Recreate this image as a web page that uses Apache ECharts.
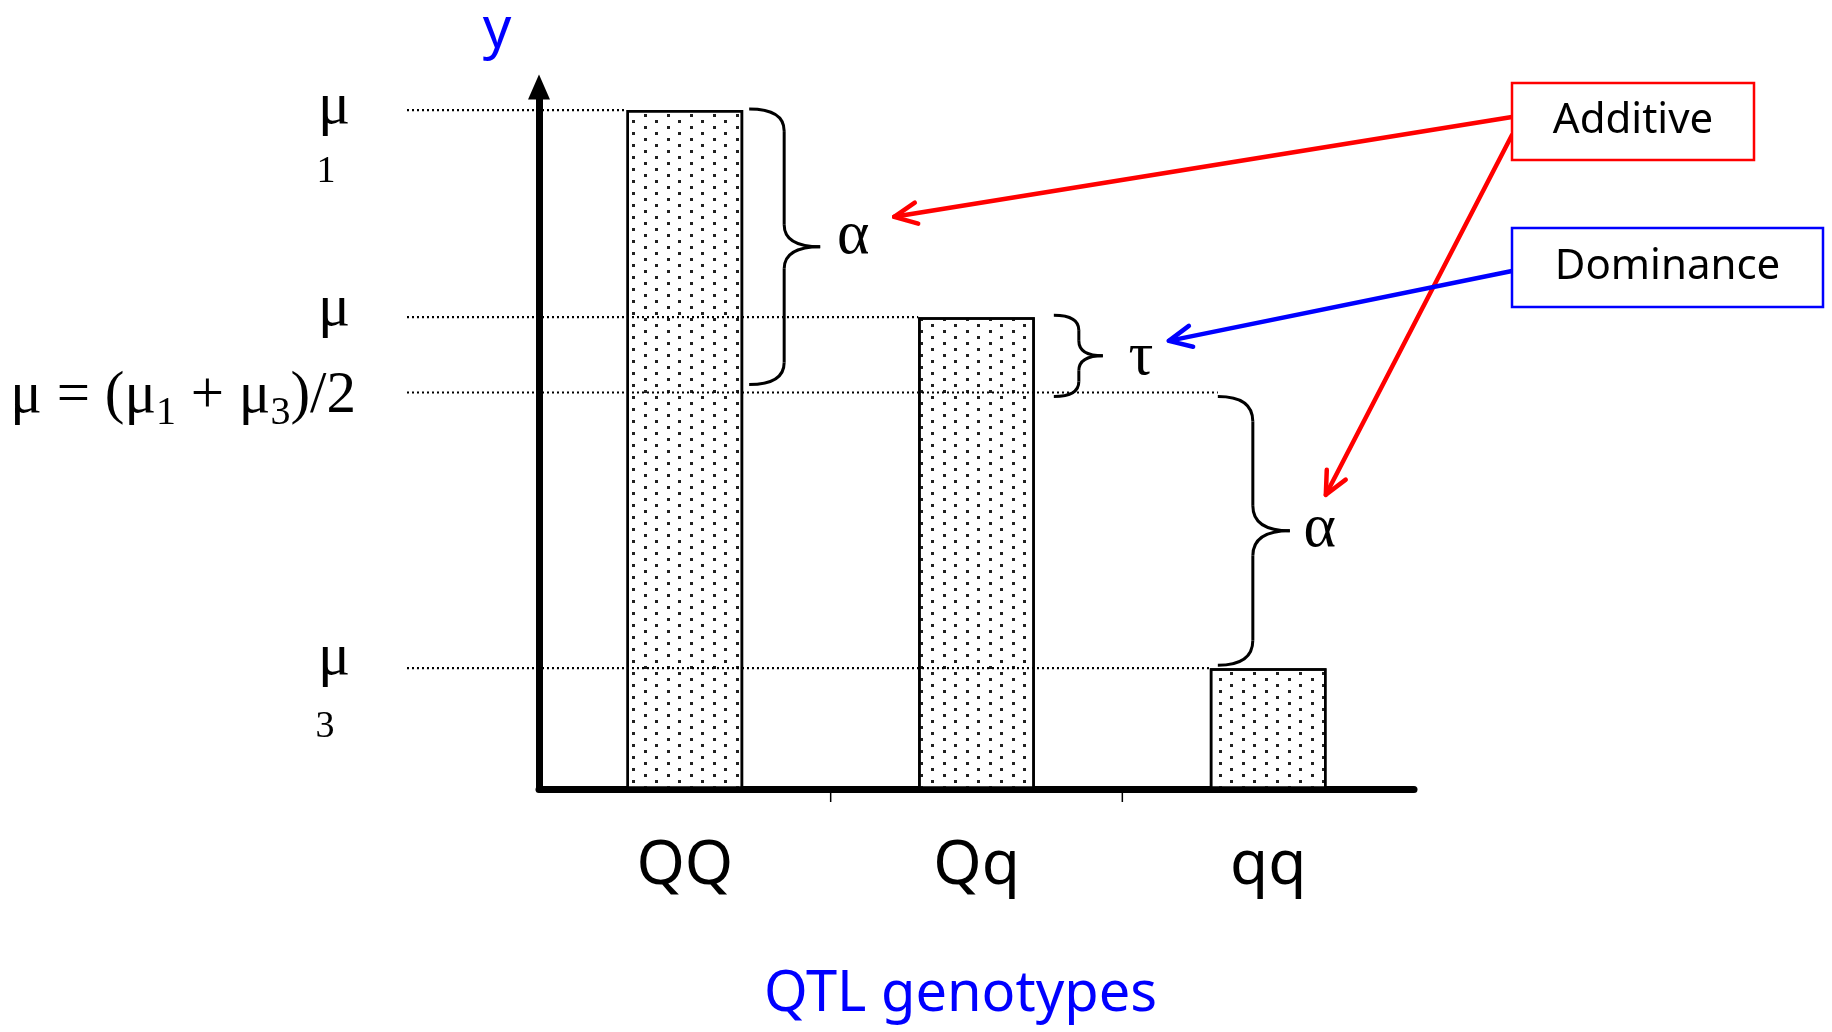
<!DOCTYPE html>
<html>
<head>
<meta charset="utf-8">
<title>QTL genotypes</title>
<script src="https://cdn.jsdelivr.net/npm/echarts@6/dist/echarts.min.js"></script>
<style>
  html, body { margin: 0; padding: 0; background: #fff; }
  #chart { width: 1832px; height: 1032px; }
</style>
</head>
<body>
<div id="chart"></div>
<script>
  // genotype classes and their mean phenotype (mu1, mu2, mu3)
  var genotypes = ['QQ', 'Qq', 'qq'];
  var genotypeMeans = [10, 6.95, 1.78];
  // mu = (mu1 + mu3) / 2
  var midpoint = 5.84;
  var yMax = 10.34;

  var handFont = "'Comic Sans MS', 'Noto Sans', sans-serif";
  var mathFont = "'Liberation Serif', 'DejaVu Serif', serif";

  var chart = echarts.init(document.getElementById('chart'));

  var option = {
    backgroundColor: '#fff',
    animation: false,
    grid: {
      left: 539, right: 418, top: 87, bottom: 243,
      containLabel: false, outerBoundsMode: 'none'
    },
    xAxis: {
      type: 'category',
      data: genotypes,
      name: 'QTL genotypes',
      nameLocation: 'middle',
      nameGap: 178,
      nameTextStyle: {
        color: '#0000ff', fontSize: 56, fontFamily: handFont,
        padding: [0, 32, 0, 0]
      },
      axisLine: {
        show: true, onZero: false,
        lineStyle: { color: '#000', width: 7, cap: 'round' }
      },
      axisTick: { show: false },
      axisLabel: { color: '#000', fontSize: 62, fontFamily: handFont, margin: 46 },
      splitLine: { show: false }
    },
    yAxis: {
      type: 'value',
      min: 0,
      max: yMax,
      name: 'y',
      nameLocation: 'end',
      nameGap: 28,
      nameTextStyle: {
        color: '#0000ff', fontSize: 56, fontFamily: handFont,
        padding: [0, 84, 0, 0]
      },
      axisLine: {
        show: true,
        symbol: ['none', 'triangle'],
        symbolSize: [22, 25],
        lineStyle: { color: '#000', width: 7, cap: 'round' }
      },
      axisTick: { show: false },
      axisLabel: { show: false },
      splitLine: { show: false }
    },
    series: [
      {
        type: 'bar',
        data: genotypeMeans,
        barWidth: '40%',
        silent: true,
        itemStyle: {
          color: '#fff',
          borderColor: '#000',
          borderWidth: 2.5,
          decal: {
            symbol: 'rect',
            symbolSize: 1,
            color: '#222',
            dashArrayX: [[2.5, 19.5], [0, 11, 2.5, 8.5]],
            dashArrayY: [2.5, 3],
            rotation: 0
          }
        },
        emphasis: { disabled: true }
      }
    ]
  };
  chart.setOption(option);

  //region annotations
  function yPx(v) { return chart.convertToPixel({ yAxisIndex: 0 }, v); }
  function xPx(c) { return chart.convertToPixel({ xAxisIndex: 0 }, c); }

  var band = xPx(genotypes[1]) - xPx(genotypes[0]);
  var barLeft = genotypes.map(function (c) { return xPx(c) - band * 0.2; });
  var barRight = genotypes.map(function (c) { return xPx(c) + band * 0.2; });
  var y0 = yPx(0);
  var y1 = yPx(genotypeMeans[0]);
  var y2 = yPx(genotypeMeans[1]);
  var y3 = yPx(genotypeMeans[2]);
  var yMid = yPx(midpoint);
  var lineStart = 407;

  var els = [];

  // ticks between categories only
  for (var i = 1; i < genotypes.length; i++) {
    var tx = (xPx(genotypes[i - 1]) + xPx(genotypes[i])) / 2;
    els.push({
      type: 'line', z: 90,
      shape: { x1: tx, y1: y0, x2: tx, y2: y0 + 13 },
      style: { stroke: '#000', lineWidth: 1.5 }
    });
  }

  function dotted(xa, xb, y) {
    els.push({
      type: 'line', z: 100,
      shape: { x1: xa, y1: y, x2: xb, y2: y },
      style: { stroke: '#000', lineWidth: 2.2, lineDash: [2, 3] }
    });
  }
  dotted(lineStart, barLeft[0], y1);
  dotted(lineStart, barLeft[1], y2);
  dotted(lineStart, barLeft[2] + 8, yMid);
  dotted(lineStart, barLeft[2], y3);

  var braceStyle = { stroke: '#000', lineWidth: 3, fill: 'none' };
  function brace(x0, top, bottom, w1, w2, r) {
    var x1 = x0 + w1, x2 = x1 + w2, mid = (top + bottom) / 2;
    var segs = [
      { type: 'bezierCurve', shape: { x1: x0, y1: top, cpx1: x1, cpy1: top, x2: x1, y2: top + r } },
      { type: 'line', shape: { x1: x1, y1: top + r, x2: x1, y2: mid - r } },
      { type: 'bezierCurve', shape: { x1: x1, y1: mid - r, cpx1: x1, cpy1: mid, x2: x2, y2: mid } },
      { type: 'bezierCurve', shape: { x1: x2, y1: mid, cpx1: x1, cpy1: mid, x2: x1, y2: mid + r } },
      { type: 'line', shape: { x1: x1, y1: mid + r, x2: x1, y2: bottom - r } },
      { type: 'bezierCurve', shape: { x1: x1, y1: bottom - r, cpx1: x1, cpy1: bottom, x2: x0, y2: bottom } }
    ];
    segs.forEach(function (s) { s.style = braceStyle; s.z = 110; els.push(s); });
    return { x: x2, y: mid };
  }

  function label(text, x, y, size, font, color, align) {
    els.push({
      type: 'text', z: 110, x: x, y: y,
      style: {
        text: text, fontSize: size, fontFamily: font, fill: color || '#000',
        align: align || 'center', verticalAlign: 'middle'
      }
    });
  }

  var tip1 = brace(barRight[0] + 6, y1 - 1, yMid - 8, 35, 36, 22);
  var tipT = brace(barRight[1] + 19, y2 - 2, yMid + 4, 25, 24, 15);
  var tip2 = brace(barLeft[2] + 8, yMid + 4, y3 - 3, 35, 37, 25);

  var alpha1 = { x: tip1.x + 33, y: tip1.y - 10 };
  var tau = { x: tipT.x + 38, y: tipT.y + 2 };
  var alpha2 = { x: tip2.x + 30, y: tip2.y - 1 };
  label('\u03b1', alpha1.x, alpha1.y, 62, mathFont);
  label('\u03c4', tau.x, tau.y, 62, mathFont);
  label('\u03b1', alpha2.x, alpha2.y, 62, mathFont);

  // mean labels on the left
  label('\u03bc', 334, y1 - 3, 60, mathFont);
  label('1', 326, y1 + 62, 38, mathFont);
  label('\u03bc', 334, y2 - 8, 60, mathFont);
  label('\u03bc', 334, y3 - 10, 60, mathFont);
  label('3', 325, y3 + 59, 38, mathFont);
  els.push({
    type: 'text', z: 110, x: 356, y: yMid + 4,
    style: {
      text: '{m|\u03bc = (\u03bc}{s|1}{m| + \u03bc}{s|3}{m|)/2}',
      align: 'right', verticalAlign: 'middle',
      rich: {
        m: { fontSize: 59, fontFamily: mathFont, fill: '#000' },
        s: { fontSize: 40, fontFamily: mathFont, fill: '#000', padding: [34, 0, 0, 0] }
      }
    }
  });

  // legend boxes
  var addBox = { x: 1512, y: 83, w: 242, h: 77 };
  var domBox = { x: 1512, y: 228, w: 311, h: 79 };
  function box(b, color, text) {
    els.push({
      type: 'rect', z: 130,
      shape: { x: b.x, y: b.y, width: b.w, height: b.h },
      style: { fill: '#fff', stroke: color, lineWidth: 2.5 }
    });
    els.push({
      type: 'text', z: 131, x: b.x + b.w / 2, y: b.y + b.h / 2,
      style: {
        text: text, fontSize: 42, fontFamily: handFont, fill: '#000',
        align: 'center', verticalAlign: 'middle'
      }
    });
  }

  function arrow(xa, ya, xb, yb, color) {
    var ang = Math.atan2(ya - yb, xa - xb);
    var len = 25, spread = 0.44;
    var p1 = [xb + len * Math.cos(ang + spread), yb + len * Math.sin(ang + spread)];
    var p2 = [xb + len * Math.cos(ang - spread), yb + len * Math.sin(ang - spread)];
    var st = { stroke: color, lineWidth: 4.5, lineCap: 'round', lineJoin: 'round', fill: 'none' };
    els.push({ type: 'line', z: 120, shape: { x1: xa, y1: ya, x2: xb, y2: yb }, style: st });
    els.push({ type: 'polyline', z: 120, shape: { points: [p1, [xb, yb], p2] }, style: st });
  }
  arrow(addBox.x, addBox.y + 34, alpha1.x + 41, alpha1.y - 20, '#ff0000');
  arrow(addBox.x, addBox.y + 52, alpha2.x + 6, alpha2.y - 35, '#ff0000');
  arrow(domBox.x, domBox.y + 43, tau.x + 28, tau.y - 17, '#0000ff');

  box(addBox, '#ff0000', 'Additive');
  box(domBox, '#0000ff', 'Dominance');

  chart.setOption({ graphic: els });
  //endregion
</script>
</body>
</html>
